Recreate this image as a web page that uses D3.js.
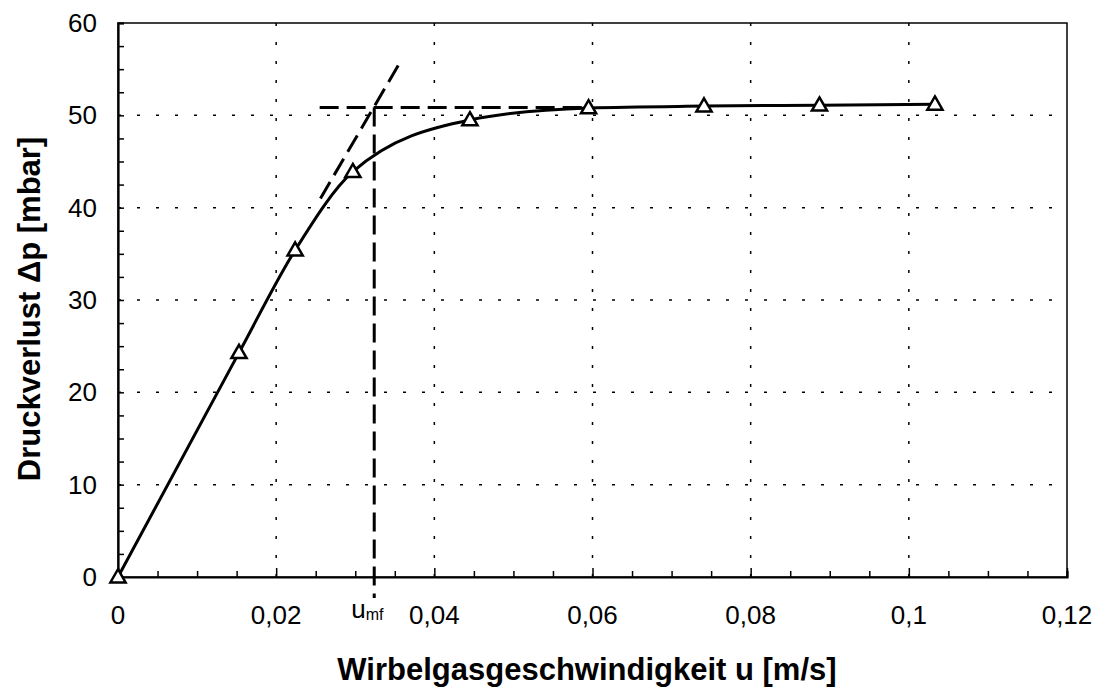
<!DOCTYPE html>
<html>
<head>
<meta charset="utf-8">
<script src="https://cdn.jsdelivr.net/npm/d3@7"></script>
<style>
  html, body { margin: 0; padding: 0; background: #fff; }
  svg { display: block; }
  text { font-family: "Liberation Sans", Arial, Helvetica, sans-serif; fill: #000; }
</style>
</head>
<body>
<svg id="chart" width="1097" height="689"></svg>
<script>
// Measured pressure drop over the fluidised bed
const velocity = [0, 0.0153, 0.0224, 0.0297, 0.0445, 0.0595, 0.0741, 0.0887, 0.1033];
const pressureDrop = [0, 24.3, 35.4, 43.9, 49.5, 50.8, 51.0, 51.1, 51.2];

// Construction lines for the minimum fluidisation velocity
const tangentU = [0.0256, 0.0355];
const tangentDp = [41.0, 55.5];
const plateauU = [0.0255, 0.059];
const plateauDp = 50.85;
const uMf = 0.0324;

const xTicks = [0, 0.02, 0.04, 0.06, 0.08, 0.1, 0.12];
const xTickLabels = ["0", "0,02", "0,04", "0,06", "0,08", "0,1", "0,12"];
const yTicks = [0, 10, 20, 30, 40, 50, 60];

const svg = d3.select("#chart");
const x = d3.scaleLinear().domain([0, 0.12]).range([118, 1067]);
const y = d3.scaleLinear().domain([0, 60]).range([577, 23]);

// dotted grid
const grid = svg.append("g")
  .attr("stroke", "#000").attr("stroke-width", 1.5).attr("stroke-dasharray", "3,16");
grid.selectAll(".gx").data(xTicks.slice(1, -1)).join("line")
  .attr("x1", d => x(d)).attr("x2", d => x(d))
  .attr("y1", y(0)).attr("y2", y(60));
grid.selectAll(".gy").data(yTicks.slice(1, -1)).join("line")
  .attr("x1", x(0)).attr("x2", x(0.12))
  .attr("y1", d => y(d)).attr("y2", d => y(d));

// plot frame
svg.append("rect")
  .attr("x", x(0)).attr("y", y(60))
  .attr("width", x(0.12) - x(0)).attr("height", y(0) - y(60))
  .attr("fill", "none").attr("stroke", "#000").attr("stroke-width", 1.5);

// axes with inward ticks
const xAxis = svg.append("g").attr("transform", `translate(0,${y(0)})`)
  .call(d3.axisTop(x).tickValues(d3.range(0, 0.1201, 0.005)).tickSize(6).tickFormat(""));
xAxis.select(".domain").attr("stroke-width", 2.2);
xAxis.selectAll(".tick line").attr("stroke-width", 1.5);
xAxis.selectAll(".tick").filter(d => Math.abs(d / 0.02 - Math.round(d / 0.02)) < 1e-6)
  .select("line").attr("y2", -9);

const yAxis = svg.append("g").attr("transform", `translate(${x(0)},0)`)
  .call(d3.axisRight(y).tickValues(d3.range(0, 60.01, 2.5)).tickSize(6).tickFormat(""));
yAxis.select(".domain").attr("stroke-width", 2.2);
yAxis.selectAll(".tick line").attr("stroke-width", 1.5);

// tick labels
svg.append("g").selectAll("text").data(xTicks).join("text")
  .attr("x", d => x(d)).attr("y", 624)
  .attr("text-anchor", "middle").attr("font-size", 26)
  .text((d, i) => xTickLabels[i]);
svg.append("g").selectAll("text").data(yTicks).join("text")
  .attr("x", 97).attr("y", d => y(d) + 9)
  .attr("text-anchor", "end").attr("font-size", 26)
  .text(d => d);

// measured curve
const pts = velocity.map((u, i) => [u, pressureDrop[i]]);
svg.append("path")
  .datum(pts)
  .attr("fill", "none").attr("stroke", "#000").attr("stroke-width", 3)
  .attr("d", d3.line().x(d => x(d[0])).y(d => y(d[1])).curve(d3.curveMonotoneX));

// construction lines
const dash = svg.append("g").attr("stroke", "#000").attr("stroke-width", 3)
  .attr("stroke-dasharray", "19,8").attr("fill", "none");
dash.append("line")
  .attr("x1", x(tangentU[0])).attr("y1", y(tangentDp[0]))
  .attr("x2", x(tangentU[1])).attr("y2", y(tangentDp[1]));
dash.append("line")
  .attr("x1", x(plateauU[0])).attr("y1", y(plateauDp))
  .attr("x2", x(plateauU[1])).attr("y2", y(plateauDp));
dash.append("line")
  .attr("x1", x(uMf)).attr("y1", y(plateauDp))
  .attr("x2", x(uMf)).attr("y2", y(0) + 21);

// triangle markers
const tri = d3.symbol().type(d3.symbolTriangle).size(100);
svg.append("g").selectAll("path").data(pts).join("path")
  .attr("transform", d => `translate(${x(d[0])},${y(d[1]) + 1})`)
  .attr("d", tri)
  .attr("fill", "#fff").attr("stroke", "#000").attr("stroke-width", 2.5);

// u_mf label
const umf = svg.append("text").attr("x", x(uMf) - 23).attr("y", 618).attr("font-size", 26);
umf.append("tspan").text("u");
umf.append("tspan").attr("font-size", 16).attr("dy", 2).text("mf");

// axis titles
svg.append("text")
  .attr("x", 587).attr("y", 680)
  .attr("text-anchor", "middle").attr("font-size", 31).attr("font-weight", "bold")
  .text("Wirbelgasgeschwindigkeit u [m/s]");
svg.append("text")
  .attr("transform", "translate(40,309) rotate(-90)")
  .attr("text-anchor", "middle").attr("font-size", 31).attr("font-weight", "bold")
  .text("Druckverlust Δp [mbar]");
</script>
</body>
</html>
